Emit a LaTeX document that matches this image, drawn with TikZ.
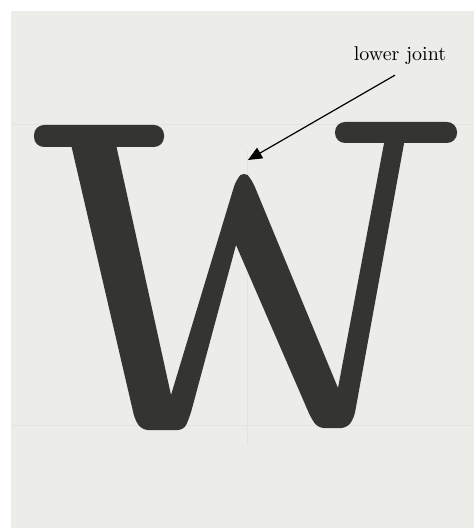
\documentclass[tikz,border=0pt]{standalone}
\definecolor{paper}{RGB}{236,236,233}
\definecolor{ink}{RGB}{52,52,51}
\definecolor{guide}{RGB}{227,227,224}
\usepackage{tikz}
\usetikzlibrary{arrows.meta}

\begin{document}
\begin{tikzpicture}[x=0.5pt,y=-0.5pt,
    glyph/.style={fill=ink,draw=none},
    pointer/.style={-{Triangle[length=7pt,width=6pt]},line width=0.6pt}]
  \useasboundingbox (0,0) rectangle (474,528);
  \fill[white] (0,0) rectangle (474,528);
  \fill[paper] (11,11) rectangle (474,528);
  % faint guide lines of the scan
  \draw[guide,thin] (11,124) -- (474,124) (11,425) -- (474,425);
  \draw[guide,thin] (247,150) -- (247,445);
  % serifs
  \fill[glyph,rounded corners=5pt] (34,125) rectangle (164,147);
  \fill[glyph,rounded corners=5pt] (335,122) rectangle (457,143);
  % body of the W
  \fill[glyph] (70,140) -- (115,140) -- (171,395)
    [rounded corners=3.5pt] -- (236,180) -- (244,171) -- (252,180)
    [sharp corners] -- (338,388) -- (385,138) -- (405,138)
    [rounded corners=3pt] -- (354,418) -- (347,428) -- (318,428) -- (311,418)
    [sharp corners] -- (236,245)
    [rounded corners=3pt] -- (190,416) -- (184,430) -- (142,430) -- (135,420)
    [sharp corners] -- cycle;
  % annotation
  \node[anchor=base] (lbl) at (400,61) {lower joint};
  \coordinate (joint) at (248,160);
  \draw[pointer] ([xshift=-2.5pt,yshift=-1.5pt]lbl.south) -- (joint);
\end{tikzpicture}
\end{document}
